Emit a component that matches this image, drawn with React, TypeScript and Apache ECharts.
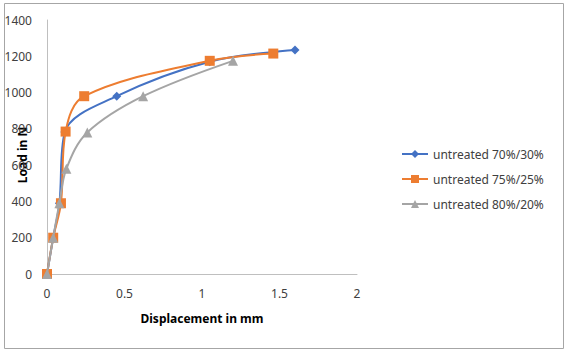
import React, { useEffect, useRef } from "react";
import * as echarts from "echarts";

const seriesNames = ["untreated 70%/30%", "untreated 75%/25%", "untreated 80%/20%"];
const blueData: [number, number][] = [
  [0, 0], [0.04, 200], [0.08, 390], [0.115, 782], [0.45, 980], [1.05, 1170], [1.6, 1235],
];
const orangeData: [number, number][] = [
  [0, 0], [0.04, 200], [0.09, 390], [0.12, 785], [0.24, 980], [1.05, 1175], [1.46, 1215],
];
const grayData: [number, number][] = [
  [0, 0], [0.04, 200], [0.08, 390], [0.125, 580], [0.26, 780], [0.62, 980], [1.2, 1175],
];
const colors = ["#4472C4", "#ED7D31", "#A5A5A5"];
const symbols = ["diamond", "rect", "triangle"];
const symbolSizes = [9, 10, 10];

const FONT = "'Noto Sans', sans-serif";

export default function App() {
  const ref = useRef<HTMLDivElement>(null);
  useEffect(() => {
    document.body.style.margin = "0";
    const chart = echarts.init(ref.current!, null, { renderer: "svg" });
    const datasets = [blueData, orangeData, grayData];
    chart.setOption({
      animation: false,
      backgroundColor: "#ffffff",
      textStyle: { fontFamily: FONT },
      grid: { left: 47, right: 212, top: 20, bottom: 79 },
      xAxis: {
        type: "value",
        min: 0,
        max: 2,
        interval: 0.5,
        name: "Displacement in mm",
        nameLocation: "middle",
        nameGap: 38,
        nameTextStyle: { fontWeight: "bold", fontSize: 12, color: "#000", fontFamily: FONT },
        axisLine: { show: true, lineStyle: { color: "#bfbfbf", width: 1 } },
        axisTick: { show: false },
        splitLine: { show: false },
        axisLabel: { color: "#404040", fontSize: 12, margin: 13, fontFamily: FONT },
      },
      yAxis: {
        type: "value",
        min: 0,
        max: 1400,
        interval: 200,
        axisLine: { show: true, lineStyle: { color: "#bfbfbf", width: 1 } },
        axisTick: { show: false },
        splitLine: { show: false },
        axisLabel: {
          color: "#404040",
          fontSize: 12,
          margin: 15,
          fontFamily: FONT,
          formatter: (v: number) => String(v),
        },
      },
      legend: {
        orient: "vertical",
        left: 396,
        top: 143,
        itemGap: 13,
        itemWidth: 26,
        itemHeight: 10,
        textStyle: { fontSize: 12, color: "#404040", fontFamily: FONT },
        data: seriesNames,
      },
      graphic: [
        {
          type: "rect",
          shape: { x: 4.5, y: 3.5, width: 559, height: 345 },
          style: { fill: "none", stroke: "#a6a6a6", lineWidth: 1 },
          silent: true,
        },
        {
          type: "text",
          x: 22,
          y: 155,
          rotation: Math.PI / 2,
          style: {
            text: "Load in N",
            fontWeight: "bold",
            fontSize: 12,
            fill: "#000",
            fontFamily: FONT,
            align: "center",
            verticalAlign: "middle",
          },
        },
      ],
      series: seriesNames.map((name, i) => ({
        name,
        type: "line",
        data: datasets[i],
        smooth: 0.35,
        symbol: symbols[i],
        symbolSize: symbolSizes[i],
        showAllSymbol: true,
        itemStyle: { color: colors[i] },
        lineStyle: { color: colors[i], width: 2 },
        z: 2 + i,
      })),
    });
    return () => chart.dispose();
  }, []);
  return <div ref={ref} style={{ width: 569, height: 353 }} />;
}
